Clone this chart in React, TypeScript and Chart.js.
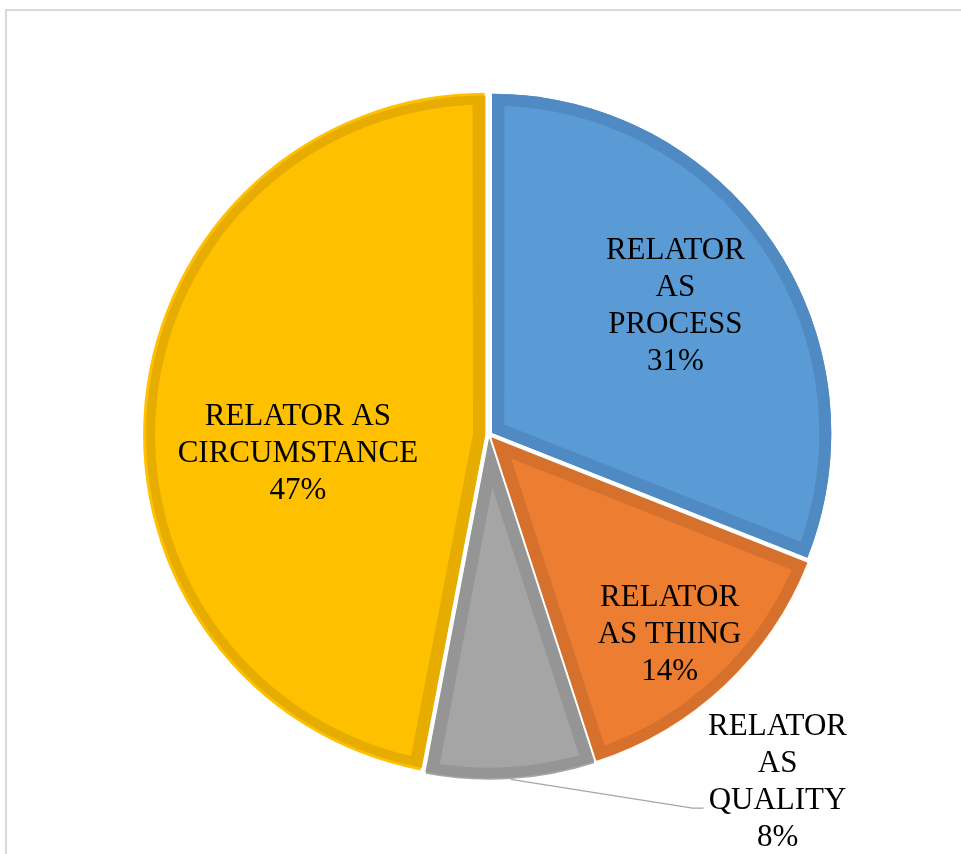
import React, { useEffect, useRef } from "react";
import { Chart, registerables } from "chart.js";

Chart.register(...registerables);

// ---- data ----
const categories = [
  "RELATOR AS PROCESS",
  "RELATOR AS THING",
  "RELATOR AS QUALITY",
  "RELATOR AS CIRCUMSTANCE",
];
const values = [31, 14, 8, 47];
const labelLines = [
  ["RELATOR", "AS", "PROCESS"],
  ["RELATOR", "AS THING"],
  ["RELATOR", "AS", "QUALITY"],
  ["RELATOR AS", "CIRCUMSTANCE"],
];

// ---- styles ----
const fillColors = ["#5b9bd5", "#ed7d31", "#a5a5a5", "#ffc000"];
const borderColors = ["#4f8ac2", "#d5712c", "#959595", "#e6ad00"];
const RADIUS = 339;
const OFFSET_PX = 4; // visual explosion distance
// label placement relative to slice mid-angle (degrees shift, fraction of radius)
const LABEL_ANGLE_SHIFT = [-0.9, 0.8, -36.3, -10.5];
const LABEL_RADIUS_FRAC = [0.672, 0.79, 1.327, 0.566];
const LEADER = [false, false, true, false];
const FONT_SIZE = 31;
const LINE_HEIGHT = 37;
const FONT = `${FONT_SIZE}px "Liberation Serif"`;

const labelPlugin = {
  id: "sliceLabels",
  afterDatasetsDraw(chart: any) {
    const ctx = chart.ctx as CanvasRenderingContext2D;
    const meta = chart.getDatasetMeta(0);
    const total = values.reduce((a, b) => a + b, 0);
    ctx.save();
    ctx.font = FONT;
    ctx.fillStyle = "#000000";
    ctx.textAlign = "center";
    ctx.textBaseline = "alphabetic";
    meta.data.forEach((arc: any, i: number) => {
      const { x, y, startAngle, endAngle, outerRadius } = arc.getProps(
        ["x", "y", "startAngle", "endAngle", "outerRadius"],
        true
      );
      const mid = (startAngle + endAngle) / 2;
      const ang = mid + (LABEL_ANGLE_SHIFT[i] * Math.PI) / 180;
      const r = outerRadius * LABEL_RADIUS_FRAC[i];
      const lx = x + Math.cos(ang) * r;
      const ly = y + Math.sin(ang) * r;
      const pct = Math.round((values[i] / total) * 100) + "%";
      const lines = [...labelLines[i], pct];
      const n = lines.length;
      lines.forEach((t, k) => {
        const cy = ly + (k - (n - 1) / 2) * LINE_HEIGHT;
        ctx.fillText(t, lx, cy + FONT_SIZE * 0.33);
      });
      if (LEADER[i]) {
        const R = outerRadius + OFFSET_PX + 2;
        const sx = x + Math.cos(mid) * R;
        const sy = y + Math.sin(mid) * R;
        ctx.save();
        ctx.beginPath();
        ctx.strokeStyle = "#a6a6a6";
        ctx.lineWidth = 1.3;
        ctx.moveTo(sx, sy);
        ctx.lineTo(lx - 85, ly + 28);
        ctx.lineTo(lx - 74, ly + 28);
        ctx.stroke();
        ctx.restore();
      }
    });
    ctx.restore();
  },
};

export default function App() {
  const ref = useRef<HTMLCanvasElement | null>(null);
  useEffect(() => {
    if (!ref.current) return;
    const chart = new Chart(ref.current, {
      type: "pie",
      data: {
        labels: categories,
        datasets: [
          {
            data: values,
            backgroundColor: fillColors,
            borderColor: borderColors,
            borderWidth: 12,
            borderAlign: "inner",
            offset: OFFSET_PX * 4,
            hoverOffset: OFFSET_PX * 4,
            radius: RADIUS,
          } as any,
        ],
      },
      options: {
        responsive: false,
        animation: false,
        events: [],
        radius: RADIUS,
        layout: { padding: 0 },
        plugins: {
          legend: { display: false },
          tooltip: { enabled: false },
        },
      } as any,
      plugins: [labelPlugin],
    });
    return () => chart.destroy();
  }, []);

  return (
    <div>
      <div
        style={{
          position: "absolute",
          left: 5,
          top: 9,
          width: 956,
          height: 845,
          boxSizing: "border-box",
          borderTop: "2px solid #d9d9d9",
          borderLeft: "2px solid #d9d9d9",
          background: "#ffffff",
        }}
      />
      <canvas
        ref={ref}
        width={944}
        height={838}
        style={{ position: "absolute", left: 17, top: 16, width: 944, height: 838 }}
      />
    </div>
  );
}
